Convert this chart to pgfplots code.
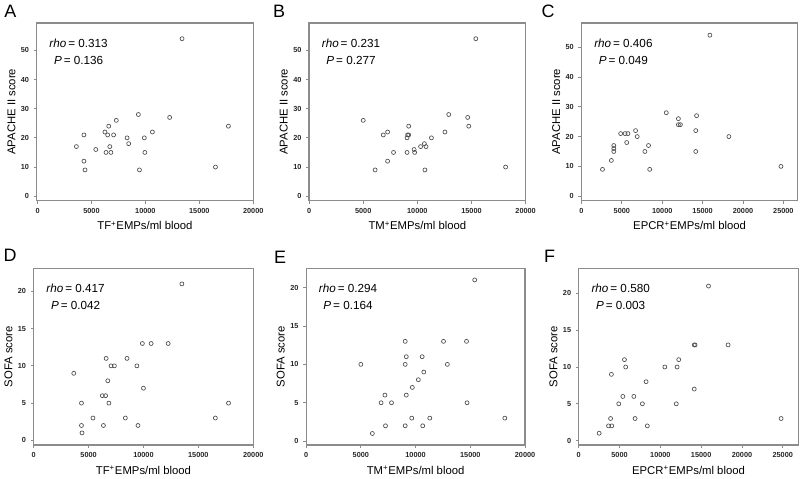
\documentclass[border=0pt]{standalone}
\usepackage{pgfplots}
\pgfplotsset{compat=1.18}
\usepackage{fontspec}
\setmainfont{Liberation Sans}
\pgfplotsset{
  panel/.style={
    scale only axis,
    axis line style={draw=black!45, line width=0.9pt},
    tick style={draw=black!45, line width=0.6pt},
    tick align=outside,
    major tick length=2.25pt,
    xtick pos=left, ytick pos=left,
    tick label style={font=\fontsize{5.5}{6}\selectfont\bfseries, text=black!85},
    /pgf/number format/assume math mode=true,
    /pgf/number format/1000 sep={},
    scaled ticks=false,
    every axis x label/.style={at={(axis description cs:0.5,0)}, anchor=center, yshift=-19pt, font=\fontsize{8.5}{10}\selectfont},
    every axis y label/.style={at={(axis description cs:0,0.5)}, anchor=center, rotate=90, yshift=19pt, font=\fontsize{8.5}{10}\selectfont},
  },
  pts/.style={only marks, mark=o, mark size=1.5pt, draw=black!70, line width=0.5pt, mark options={draw=black!70, fill=none}},
  toprow/.style={ytick={0,10,20,30,40,50}, ylabel={APACHE II score}},
  botrow/.style={ytick={0,5,10,15,20}, ylabel={SOFA score}},
}
\newcommand{\stat}[2]{\node[align=center, inner sep=0pt, font=\fontsize{8.8}{12.75}\selectfont] at (rel axis cs:0,1) [xshift=31.5pt, yshift=-21.4pt] {\textit{rho}\,= #1\\\textit{P}\,= #2};}
\begin{document}
\begin{tikzpicture}
\path (0,0) rectangle (600pt,357.75pt);
% Panel letters
\node[inner sep=0pt, font=\fontsize{13.5}{14}\selectfont] at (6.5pt,349pt) {A};
\node[inner sep=0pt, font=\fontsize{13.5}{14}\selectfont] at (208.5pt,349pt) {B};
\node[inner sep=0pt, font=\fontsize{13.5}{14}\selectfont] at (410.6pt,349pt) {C};
\node[inner sep=0pt, font=\fontsize{13.5}{14}\selectfont] at (6.2pt,165.75pt) {D};
\node[inner sep=0pt, font=\fontsize{13.5}{14}\selectfont] at (209.25pt,164.25pt) {E};
\node[inner sep=0pt, font=\fontsize{13.5}{14}\selectfont] at (411.75pt,165.4pt) {F};

% A
\begin{axis}[panel, toprow, at={(26.25pt,207pt)}, anchor=south west, width=162.75pt, height=133.5pt,
  xmin=-80, xmax=20000, ymin=-1.5, ymax=59.4, xtick={0,5000,10000,15000,20000},
  xlabel={TF\textsuperscript{+}EMPs/ml blood}]
\addplot[pts] coordinates {(3600,17)(4300,21)(4300,12)(4400,9)(5400,16)(6250,22)(6350,15)(6500,21)(6600,24)(6700,17)(6800,15)(7050,21)(7300,26)(8300,20)(8450,18)(9350,28)(9450,9)(9900,20)(9950,15)(10650,22)(12250,27)(13400,54)(16500,10)(17700,24)};
\stat{0.313}{0.136}
\end{axis}

% B
\begin{axis}[panel, toprow, at={(231pt,207pt)}, anchor=south west, width=162.75pt, height=133.5pt,
  xmin=0, xmax=20000, ymin=-1.5, ymax=59.4, xtick={0,5000,10000,15000,20000},
  xlabel={TM\textsuperscript{+}EMPs/ml blood}]
\addplot[pts] coordinates {(5000,26)(6100,9)(6850,21)(7250,22)(7250,12)(7800,15)(9050,15)(9050,20)(9100,21)(9200,21)(9200,24)(9700,16)(9750,15)(10300,17)(10650,18)(10700,9)(10800,17)(11300,20)(12550,22)(12900,28)(14650,27)(14750,24)(15400,54)(18150,10)};
\stat{0.231}{0.277}
\end{axis}

% C
\begin{axis}[panel, toprow, at={(435.75pt,207pt)}, anchor=south west, width=162.5pt, height=133.5pt,
  xmin=0, xmax=26770, ymin=-1.45, ymax=58.1, xtick={0,5000,10000,15000,20000,25000},
  xlabel={EPCR\textsuperscript{+}EMPs/ml blood}]
\addplot[pts] coordinates {(2600,9)(3700,12)(4000,17)(4000,16)(4000,15)(4850,21)(5400,21)(5750,21)(5600,18)(6700,22)(6900,20)(7850,15)(8300,17)(8450,9)(10500,28)(12000,26)(12000,24)(12250,24)(14150,22)(14250,27)(14150,15)(15900,54)(18250,20)(24700,10)};
\stat{0.406}{0.049}
\end{axis}

% D
\begin{axis}[panel, botrow, at={(24pt,23.25pt)}, anchor=south west, width=165pt, height=132.75pt,
  xmin=0, xmax=20000, ymin=-0.62, ymax=23.08, xtick={0,5000,10000,15000,20000},
  xlabel={TF\textsuperscript{+}EMPs/ml blood}]
\addplot[pts] coordinates {(3650,9)(4350,5)(4350,2)(4400,1)(5400,3)(6250,6)(6350,2)(6550,6)(6600,11)(6750,8)(6850,5)(7050,10)(7350,10)(8350,3)(8500,11)(9400,10)(9500,2)(9900,13)(10000,7)(10700,13)(12250,13)(13500,21)(16550,3)(17750,5)};
\stat{0.417}{0.042}
\end{axis}

% E
\begin{axis}[panel, botrow, at={(228.75pt,23.25pt)}, anchor=south west, width=164.6pt, height=132.75pt,
  xmin=0, xmax=20000, ymin=-0.5, ymax=22.5, xtick={0,5000,10000,15000,20000},
  xlabel={TM\textsuperscript{+}EMPs/ml blood}]
\addplot[pts] coordinates {(5000,10)(6050,1)(6850,5)(7200,6)(7250,2)(7800,5)(9050,13)(9050,10)(9050,2)(9150,11)(9150,6)(9650,3)(9700,7)(10250,8)(10600,11)(10650,2)(10750,9)(11300,3)(12550,13)(12900,10)(14650,13)(14700,5)(15400,21)(18150,3)};
\stat{0.294}{0.164}
\end{axis}

% F
\begin{axis}[panel, botrow, at={(433.7pt,23.25pt)}, anchor=south west, width=165pt, height=132.75pt,
  xmin=0, xmax=26900, ymin=-0.6, ymax=23.4, xtick={0,5000,10000,15000,20000,25000},
  xlabel={EPCR\textsuperscript{+}EMPs/ml blood}]
\addplot[pts] coordinates {(2500,1)(3650,2)(4050,2)(3900,3)(4000,9)(4900,5)(5400,6)(5600,11)(5750,10)(6750,6)(6900,3)(7800,5)(8250,8)(8400,2)(10550,10)(11950,5)(12050,10)(12250,11)(14150,13)(14250,13)(14150,7)(15900,21)(18300,13)(24800,3)};
\stat{0.580}{0.003}
\end{axis}
\end{tikzpicture}
\end{document}
